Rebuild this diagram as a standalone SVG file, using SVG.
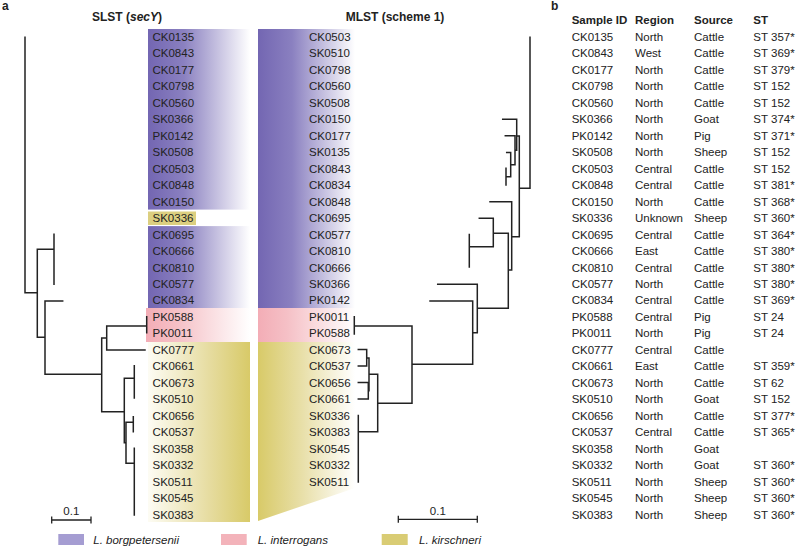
<svg xmlns="http://www.w3.org/2000/svg" width="796" height="547" viewBox="0 0 796 547">
<style>
text{font-family:"Liberation Sans",Arial,sans-serif;fill:#222}
.lab{font-size:11.5px;fill:#333}
.tb{font-size:11.5px}
.hd{font-size:11.5px;font-weight:bold}
.ttl{font-size:12px;font-weight:bold}
.leg{font-size:11.5px;font-style:italic}
.tree{stroke:#222;stroke-width:1.5;fill:none;stroke-linecap:square}
.sc{stroke:#222;stroke-width:1.3;fill:none}
</style>
<defs>
<linearGradient id="pL" x1="0" x2="1" y1="0" y2="0"><stop offset="0" stop-color="#7366b2"/><stop offset="0.35" stop-color="#8a80c0"/><stop offset="1" stop-color="#ffffff"/></linearGradient>
<linearGradient id="kL" x1="0" x2="1" y1="0" y2="0"><stop offset="0" stop-color="#f3adb6"/><stop offset="0.3" stop-color="#f5c0c6"/><stop offset="1" stop-color="#ffffff"/></linearGradient>
<linearGradient id="yL" x1="0" x2="1" y1="0" y2="0"><stop offset="0" stop-color="#fdfcf4"/><stop offset="0.6" stop-color="#e6dca0"/><stop offset="1" stop-color="#d8ca68"/></linearGradient>
<linearGradient id="yR" x1="0" x2="1" y1="0" y2="0"><stop offset="0" stop-color="#d8ca68"/><stop offset="0.45" stop-color="#e8dfa8"/><stop offset="1" stop-color="#ffffff"/></linearGradient>
</defs>
<rect width="796" height="547" fill="#fff"/>
<text x="2" y="10" class="ttl">a</text>
<text x="551" y="10" class="ttl">b</text>
<text x="127" y="21" class="ttl" text-anchor="middle">SLST (<tspan font-style="italic">secY</tspan>)</text>
<text x="395" y="21" class="ttl" text-anchor="middle">MLST (scheme 1)</text>
<g id="blocks">
<rect x="148" y="29" width="102" height="279" fill="url(#pL)"/>
<rect x="148" y="209.6" width="102" height="16.5" fill="#fff"/>
<rect x="148" y="211.5" width="48" height="13.5" fill="#dccf80"/>
<rect x="146" y="308" width="104" height="34" fill="url(#kL)"/>
<rect x="148" y="342" width="102" height="180" fill="url(#yL)"/>
<rect x="258" y="29" width="97" height="279" fill="url(#pL)"/>
<rect x="258" y="308" width="97" height="34" fill="url(#kL)"/>
<polygon points="258,342 355,342 355,488 258,521" fill="url(#yR)"/>
</g>
<g id="connectors">
<path class="tree" d="M25,37.3V292.7H37.3 M37.3,249.3V337.3 M37.3,249.3H54 M54,234.3V284.3 M37.3,337.3H45 M45,301V374.3 M45,301H62.7 M45,374.3H101.7 M101.7,338V411.7 M101.7,338H106.7 M106.7,326V350 M106.7,326H146.7 M146.7,316.7V332.7 M106.7,350H145 M101.7,411.7H124.3 M124.3,378.3V442.7 M124.3,378.3H134.3 M134.3,365.7V398 M124.3,442.7H126 M126,422.3V463.3 M126,422.3H133.3 M133.3,416.7V431.7 M126,463.3H134.3 M134.3,448.3V515"/>
<path class="tree" stroke="#333" d="M530,37.3V188.3H519.3 M519.3,136V236.7 M519.3,136H516.7 M516.7,119.3V150.3 M516.7,119.3H502.7 M516.7,150.3H515 M515,135.7V164.7 M515,135.7H505.3 M515,164.7H510.7 M510.7,152.5V176.7 M510.7,152.5H506.7 M510.7,176.7H506 M506,168.3V184.9 M519.3,236.7H511.7 M511.7,201.7V270 M511.7,201.7H490 M511.7,270H508.3 M508.3,233.3V308.3 M508.3,233.3H493.3 M493.3,218.3V246.7 M493.3,218.3H479.3 M493.3,246.7H469.3 M469.3,234.5V267 M508.3,308.3H477.3 M477.3,284.3V332.7 M477.3,284.3H437.7 M477.3,332.7H472.7 M472.7,301V364.3 M472.7,301H430 M472.7,364.3H412 M412,326V403.3 M412,326H354.3 M354.3,316.7V334 M412,403.3H377.7 M377.7,374.3V431.7 M377.7,431.7H358.3 M358.3,415.5V482 M377.7,374.3H369 M369,357.9V390.8 M369,357.9H366.7 M366.7,349.6V366.1 M366.7,349.6H358.3 M366.7,366.1H358.3 M368.3,382.6V399 M368.3,382.6H358.3 M368.3,399H358.3"/>
</g>
<g id="slst-labels" class="lab">
<text id="L-CK0135" x="152.5" y="40.9">CK0135</text>
<text id="L-CK0843" x="152.5" y="57.4">CK0843</text>
<text id="L-CK0177" x="152.5" y="73.8">CK0177</text>
<text id="L-CK0798" x="152.5" y="90.3">CK0798</text>
<text id="L-CK0560" x="152.5" y="106.8">CK0560</text>
<text id="L-SK0366" x="152.5" y="123.3">SK0366</text>
<text id="L-PK0142" x="152.5" y="139.7">PK0142</text>
<text id="L-SK0508" x="152.5" y="156.2">SK0508</text>
<text id="L-CK0503" x="152.5" y="172.7">CK0503</text>
<text id="L-CK0848" x="152.5" y="189.1">CK0848</text>
<text id="L-CK0150" x="152.5" y="205.6">CK0150</text>
<text id="L-SK0336" x="152.5" y="222.1">SK0336</text>
<text id="L-CK0695" x="152.5" y="238.5">CK0695</text>
<text id="L-CK0666" x="152.5" y="255.0">CK0666</text>
<text id="L-CK0810" x="152.5" y="271.5">CK0810</text>
<text id="L-CK0577" x="152.5" y="288.0">CK0577</text>
<text id="L-CK0834" x="152.5" y="304.4">CK0834</text>
<text id="L-PK0588" x="152.5" y="320.9">PK0588</text>
<text id="L-PK0011" x="152.5" y="337.4">PK0011</text>
<text id="L-CK0777" x="152.5" y="353.8">CK0777</text>
<text id="L-CK0661" x="152.5" y="370.3">CK0661</text>
<text id="L-CK0673" x="152.5" y="386.8">CK0673</text>
<text id="L-SK0510" x="152.5" y="403.2">SK0510</text>
<text id="L-CK0656" x="152.5" y="419.7">CK0656</text>
<text id="L-CK0537" x="152.5" y="436.2">CK0537</text>
<text id="L-SK0358" x="152.5" y="452.7">SK0358</text>
<text id="L-SK0332" x="152.5" y="469.1">SK0332</text>
<text id="L-SK0511" x="152.5" y="485.6">SK0511</text>
<text id="L-SK0545" x="152.5" y="502.1">SK0545</text>
<text id="L-SK0383" x="152.5" y="518.5">SK0383</text>
</g>
<g id="mlst-labels" class="lab">
<text id="R-CK0503" x="309" y="40.9">CK0503</text>
<text id="R-SK0510" x="309" y="57.4">SK0510</text>
<text id="R-CK0798" x="309" y="73.8">CK0798</text>
<text id="R-CK0560" x="309" y="90.3">CK0560</text>
<text id="R-SK0508" x="309" y="106.8">SK0508</text>
<text id="R-CK0150" x="309" y="123.3">CK0150</text>
<text id="R-CK0177" x="309" y="139.7">CK0177</text>
<text id="R-SK0135" x="309" y="156.2">SK0135</text>
<text id="R-CK0843" x="309" y="172.7">CK0843</text>
<text id="R-CK0834" x="309" y="189.1">CK0834</text>
<text id="R-CK0848" x="309" y="205.6">CK0848</text>
<text id="R-CK0695" x="309" y="222.1">CK0695</text>
<text id="R-CK0577" x="309" y="238.5">CK0577</text>
<text id="R-CK0810" x="309" y="255.0">CK0810</text>
<text id="R-CK0666" x="309" y="271.5">CK0666</text>
<text id="R-SK0366" x="309" y="288.0">SK0366</text>
<text id="R-PK0142" x="309" y="304.4">PK0142</text>
<text id="R-PK0011" x="309" y="320.9">PK0011</text>
<text id="R-PK0588" x="309" y="337.4">PK0588</text>
<text id="R-CK0673" x="309" y="353.8">CK0673</text>
<text id="R-CK0537" x="309" y="370.3">CK0537</text>
<text id="R-CK0656" x="309" y="386.8">CK0656</text>
<text id="R-CK0661" x="309" y="403.2">CK0661</text>
<text id="R-SK0336" x="309" y="419.7">SK0336</text>
<text id="R-SK0383" x="309" y="436.2">SK0383</text>
<text id="R-SK0545" x="309" y="452.7">SK0545</text>
<text id="R-SK0332" x="309" y="469.1">SK0332</text>
<text id="R-SK0511" x="309" y="485.6">SK0511</text>
</g>
<g id="scale-left">
<path class="sc" d="M51.7,520H91 M51.7,516.5V523.5 M91,516.5V523.5"/>
<text x="71.3" y="515" class="tb" text-anchor="middle">0.1</text>
</g>
<g id="scale-right">
<path class="sc" d="M398.3,519.3H477.3 M398.3,515.8V522.8 M477.3,515.8V522.8"/>
<text x="437.8" y="515" class="tb" text-anchor="middle">0.1</text>
</g>
<g id="legend">
<rect x="58.3" y="534" width="25.7" height="11" fill="#a59dd2"/>
<text x="93.3" y="543.5" class="leg">L. borgpetersenii</text>
<rect x="221" y="534" width="25.7" height="11" fill="#f3b3ba"/>
<text x="257.7" y="543.5" class="leg">L. interrogans</text>
<rect x="381.7" y="534" width="26" height="11" fill="#d9cc74"/>
<text x="419" y="543.5" class="leg">L. kirschneri</text>
</g>
<g id="table" class="tb">
<text y="24.2" class="hd"><tspan x="571.7">Sample ID</tspan><tspan x="635">Region</tspan><tspan x="694">Source</tspan><tspan x="753.3">ST</tspan></text>
<text y="40.9"><tspan x="571.7">CK0135</tspan><tspan x="635">North</tspan><tspan x="694">Cattle</tspan><tspan x="753.3">ST 357*</tspan></text>
<text y="57.4"><tspan x="571.7">CK0843</tspan><tspan x="635">West</tspan><tspan x="694">Cattle</tspan><tspan x="753.3">ST 369*</tspan></text>
<text y="73.8"><tspan x="571.7">CK0177</tspan><tspan x="635">North</tspan><tspan x="694">Cattle</tspan><tspan x="753.3">ST 379*</tspan></text>
<text y="90.3"><tspan x="571.7">CK0798</tspan><tspan x="635">North</tspan><tspan x="694">Cattle</tspan><tspan x="753.3">ST 152</tspan></text>
<text y="106.8"><tspan x="571.7">CK0560</tspan><tspan x="635">North</tspan><tspan x="694">Cattle</tspan><tspan x="753.3">ST 152</tspan></text>
<text y="123.3"><tspan x="571.7">SK0366</tspan><tspan x="635">North</tspan><tspan x="694">Goat</tspan><tspan x="753.3">ST 374*</tspan></text>
<text y="139.7"><tspan x="571.7">PK0142</tspan><tspan x="635">North</tspan><tspan x="694">Pig</tspan><tspan x="753.3">ST 371*</tspan></text>
<text y="156.2"><tspan x="571.7">SK0508</tspan><tspan x="635">North</tspan><tspan x="694">Sheep</tspan><tspan x="753.3">ST 152</tspan></text>
<text y="172.7"><tspan x="571.7">CK0503</tspan><tspan x="635">Central</tspan><tspan x="694">Cattle</tspan><tspan x="753.3">ST 152</tspan></text>
<text y="189.1"><tspan x="571.7">CK0848</tspan><tspan x="635">Central</tspan><tspan x="694">Cattle</tspan><tspan x="753.3">ST 381*</tspan></text>
<text y="205.6"><tspan x="571.7">CK0150</tspan><tspan x="635">North</tspan><tspan x="694">Cattle</tspan><tspan x="753.3">ST 368*</tspan></text>
<text y="222.1"><tspan x="571.7">SK0336</tspan><tspan x="635">Unknown</tspan><tspan x="694">Sheep</tspan><tspan x="753.3">ST 360*</tspan></text>
<text y="238.5"><tspan x="571.7">CK0695</tspan><tspan x="635">Central</tspan><tspan x="694">Cattle</tspan><tspan x="753.3">ST 364*</tspan></text>
<text y="255.0"><tspan x="571.7">CK0666</tspan><tspan x="635">East</tspan><tspan x="694">Cattle</tspan><tspan x="753.3">ST 380*</tspan></text>
<text y="271.5"><tspan x="571.7">CK0810</tspan><tspan x="635">Central</tspan><tspan x="694">Cattle</tspan><tspan x="753.3">ST 380*</tspan></text>
<text y="288.0"><tspan x="571.7">CK0577</tspan><tspan x="635">North</tspan><tspan x="694">Cattle</tspan><tspan x="753.3">ST 380*</tspan></text>
<text y="304.4"><tspan x="571.7">CK0834</tspan><tspan x="635">Central</tspan><tspan x="694">Cattle</tspan><tspan x="753.3">ST 369*</tspan></text>
<text y="320.9"><tspan x="571.7">PK0588</tspan><tspan x="635">Central</tspan><tspan x="694">Pig</tspan><tspan x="753.3">ST 24</tspan></text>
<text y="337.4"><tspan x="571.7">PK0011</tspan><tspan x="635">North</tspan><tspan x="694">Pig</tspan><tspan x="753.3">ST 24</tspan></text>
<text y="353.8"><tspan x="571.7">CK0777</tspan><tspan x="635">Central</tspan><tspan x="694">Cattle</tspan></text>
<text y="370.3"><tspan x="571.7">CK0661</tspan><tspan x="635">East</tspan><tspan x="694">Cattle</tspan><tspan x="753.3">ST 359*</tspan></text>
<text y="386.8"><tspan x="571.7">CK0673</tspan><tspan x="635">North</tspan><tspan x="694">Cattle</tspan><tspan x="753.3">ST 62</tspan></text>
<text y="403.2"><tspan x="571.7">SK0510</tspan><tspan x="635">North</tspan><tspan x="694">Goat</tspan><tspan x="753.3">ST 152</tspan></text>
<text y="419.7"><tspan x="571.7">CK0656</tspan><tspan x="635">North</tspan><tspan x="694">Cattle</tspan><tspan x="753.3">ST 377*</tspan></text>
<text y="436.2"><tspan x="571.7">CK0537</tspan><tspan x="635">Central</tspan><tspan x="694">Cattle</tspan><tspan x="753.3">ST 365*</tspan></text>
<text y="452.7"><tspan x="571.7">SK0358</tspan><tspan x="635">North</tspan><tspan x="694">Goat</tspan></text>
<text y="469.1"><tspan x="571.7">SK0332</tspan><tspan x="635">North</tspan><tspan x="694">Goat</tspan><tspan x="753.3">ST 360*</tspan></text>
<text y="485.6"><tspan x="571.7">SK0511</tspan><tspan x="635">North</tspan><tspan x="694">Sheep</tspan><tspan x="753.3">ST 360*</tspan></text>
<text y="502.1"><tspan x="571.7">SK0545</tspan><tspan x="635">North</tspan><tspan x="694">Sheep</tspan><tspan x="753.3">ST 360*</tspan></text>
<text y="518.5"><tspan x="571.7">SK0383</tspan><tspan x="635">North</tspan><tspan x="694">Sheep</tspan><tspan x="753.3">ST 360*</tspan></text>
</g>
</svg>
